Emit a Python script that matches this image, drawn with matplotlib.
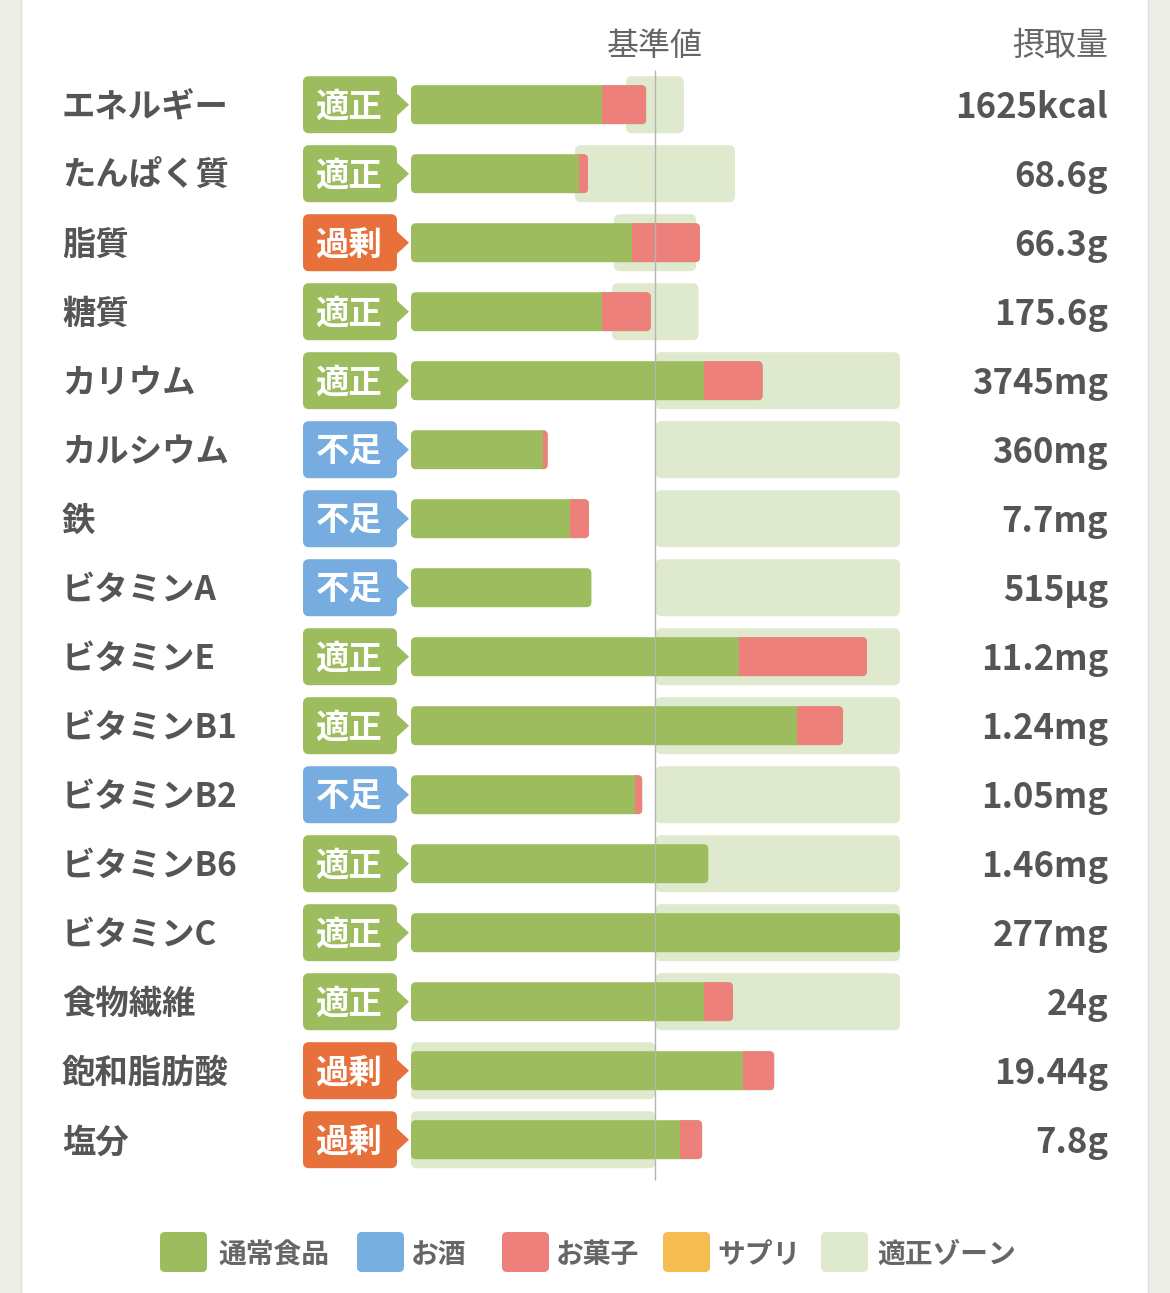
import matplotlib
matplotlib.use('Agg')
import matplotlib.pyplot as plt
from matplotlib.patches import FancyBboxPatch, Rectangle, Polygon

plt.rcParams['font.family'] = ['Noto Sans CJK JP', 'DejaVu Sans']

# === データ(基準値 = 100 とした割合 %) ===
nutrients = ['エネルギー', 'たんぱく質', '脂質', '糖質', 'カリウム', 'カルシウム', '鉄',
             'ビタミンA', 'ビタミンE', 'ビタミンB1', 'ビタミンB2', 'ビタミンB6', 'ビタミンC',
             '食物繊維', '飽和脂肪酸', '塩分']
status = ['適正', '適正', '過剰', '適正', '適正', '不足', '不足', '不足', '適正', '適正',
          '不足', '適正', '適正', '適正', '過剰', '過剰']
intake = ['1625kcal', '68.6g', '66.3g', '175.6g', '3745mg', '360mg', '7.7mg', '515µg',
          '11.2mg', '1.24mg', '1.05mg', '1.46mg', '277mg', '24g', '19.44g', '7.8g']
food = [78.2, 68.6, 90.5, 78.2, 119.7, 54.0, 64.9, 73.8, 134.3, 157.8, 91.7, 121.6,
        200.0, 119.7, 135.9, 110.1]
snack = [18.0, 3.8, 27.7, 19.9, 24.1, 1.9, 7.9, 0.0, 52.2, 18.9, 2.9, 0.0, 0.0, 12.0,
         12.7, 9.0]
zone_lo = [88.0, 67.1, 83.0, 82.2, 100, 100, 100, 100, 100, 100, 100, 100, 100, 100, 0, 0]
zone_hi = [111.6, 132.5, 116.6, 117.6, 200, 200, 200, 200, 200, 200, 200, 200, 200, 200,
           100, 100]
reference = 100
x_max = 200

legend_labels = ['通常食品', 'お酒', 'お菓子', 'サプリ', '適正ゾーン']

# === 色 ===
c_food = '#9dbc5d'
c_snack = '#ee807c'
c_zone = '#dfe9cd'
legend_colors = [c_food, '#77afe0', c_snack, '#f5bd50', c_zone]
badge_colors = {'適正': '#9dbc5d', '過剰': '#e8703a', '不足': '#76acdf'}
c_text = '#555555'
c_head = '#666666'

W, H = 1170, 1293
fig = plt.figure(figsize=(W / 100, H / 100), dpi=100)
fig.patch.set_facecolor('#eeeee8')
fig.patches.append(Rectangle((21 / W, -0.01), (1148 - 21) / W, 1.02, transform=fig.transFigure,
                             fc='white', ec='#e0e0da', lw=1, zorder=0))

n = len(nutrients)
row_px = 69.0
top_px = 104.7 - row_px / 2
bar_left, bar_w = 411, 489
dy = 3  # 文字の縦位置の微調整(px)

# 棒グラフ用の軸(x: 基準値比 %, y: 行)
ax = fig.add_axes([bar_left / W, (H - top_px - n * row_px) / H, bar_w / W, n * row_px / H])
ax.set_xlim(0, x_max)
ax.set_ylim(n - 0.5, -0.5)
ax.axis('off')
ax.patch.set_alpha(0)
ax.set_zorder(2)

# ピクセル座標の軸(ラベル、バッジ、凡例)
axp = fig.add_axes([0, 0, 1, 1])
axp.set_xlim(0, W)
axp.set_ylim(H, 0)
axp.axis('off')
axp.patch.set_alpha(0)
axp.set_zorder(1)

sx = bar_w / x_max
aspect = sx / row_px
bar_h = 39 / row_px
zone_h = 57 / row_px

for i in range(n):
    z = FancyBboxPatch((zone_lo[i], i - zone_h / 2), zone_hi[i] - zone_lo[i], zone_h,
                       boxstyle=f'round,pad=0,rounding_size={6 / sx}', mutation_aspect=aspect,
                       fc=c_zone, ec='none', zorder=1)
    ax.add_patch(z)

    total = food[i] + snack[i]
    b = FancyBboxPatch((0, i - bar_h / 2), total, bar_h,
                       boxstyle=f'round,pad=0,rounding_size={5 / sx}', mutation_aspect=aspect,
                       fc=c_food, ec='none', zorder=2)
    ax.add_patch(b)
    if snack[i] > 0:
        r = Rectangle((food[i], i - bar_h / 2), snack[i], bar_h, fc=c_snack, ec='none', zorder=3)
        ax.add_patch(r)
        r.set_clip_path(b)

ax.vlines(reference, -0.5, n - 0.42, color='#b5b5b5', lw=1, zorder=4, clip_on=False)


def ypx(i):
    return H - ax.transData.transform((0, i))[1]


axp.text(655, 43 + dy, '基準値', ha='center', va='center', fontsize=23, color=c_head)
axp.text(1108, 43 + dy, '摂取量', ha='right', va='center', fontsize=23, color=c_head)

for i in range(n):
    yc = ypx(i)
    axp.text(62, yc + dy, nutrients[i], ha='left', va='center', fontsize=24, weight='bold',
             color=c_text)
    axp.text(1108, yc + dy, intake[i], ha='right', va='center', fontsize=25, weight='bold',
             color=c_text)
    col = badge_colors[status[i]]
    axp.add_patch(FancyBboxPatch((303, yc - 28.5), 94, 57,
                                 boxstyle='round,pad=0,rounding_size=6', fc=col, ec='none'))
    axp.add_patch(Polygon([(396, yc - 12), (409, yc), (396, yc + 12)], closed=True,
                          fc=col, ec='none'))
    axp.text(349, yc + dy, status[i], ha='center', va='center', fontsize=24, weight='bold',
             color='white')

# === 凡例 ===
leg_box_x = [160, 357, 502, 663, 821]
leg_text_x = [218, 411, 556, 717, 877]
leg_y = 1252
for lab, col, bx, tx in zip(legend_labels, legend_colors, leg_box_x, leg_text_x):
    axp.add_patch(FancyBboxPatch((bx, leg_y - 20), 47, 40,
                                 boxstyle='round,pad=0,rounding_size=5', fc=col, ec='none'))
    axp.text(tx, leg_y + dy, lab, ha='left', va='center', fontsize=20, weight='bold',
             color=c_head)

fig.savefig('out.png', dpi=100)
